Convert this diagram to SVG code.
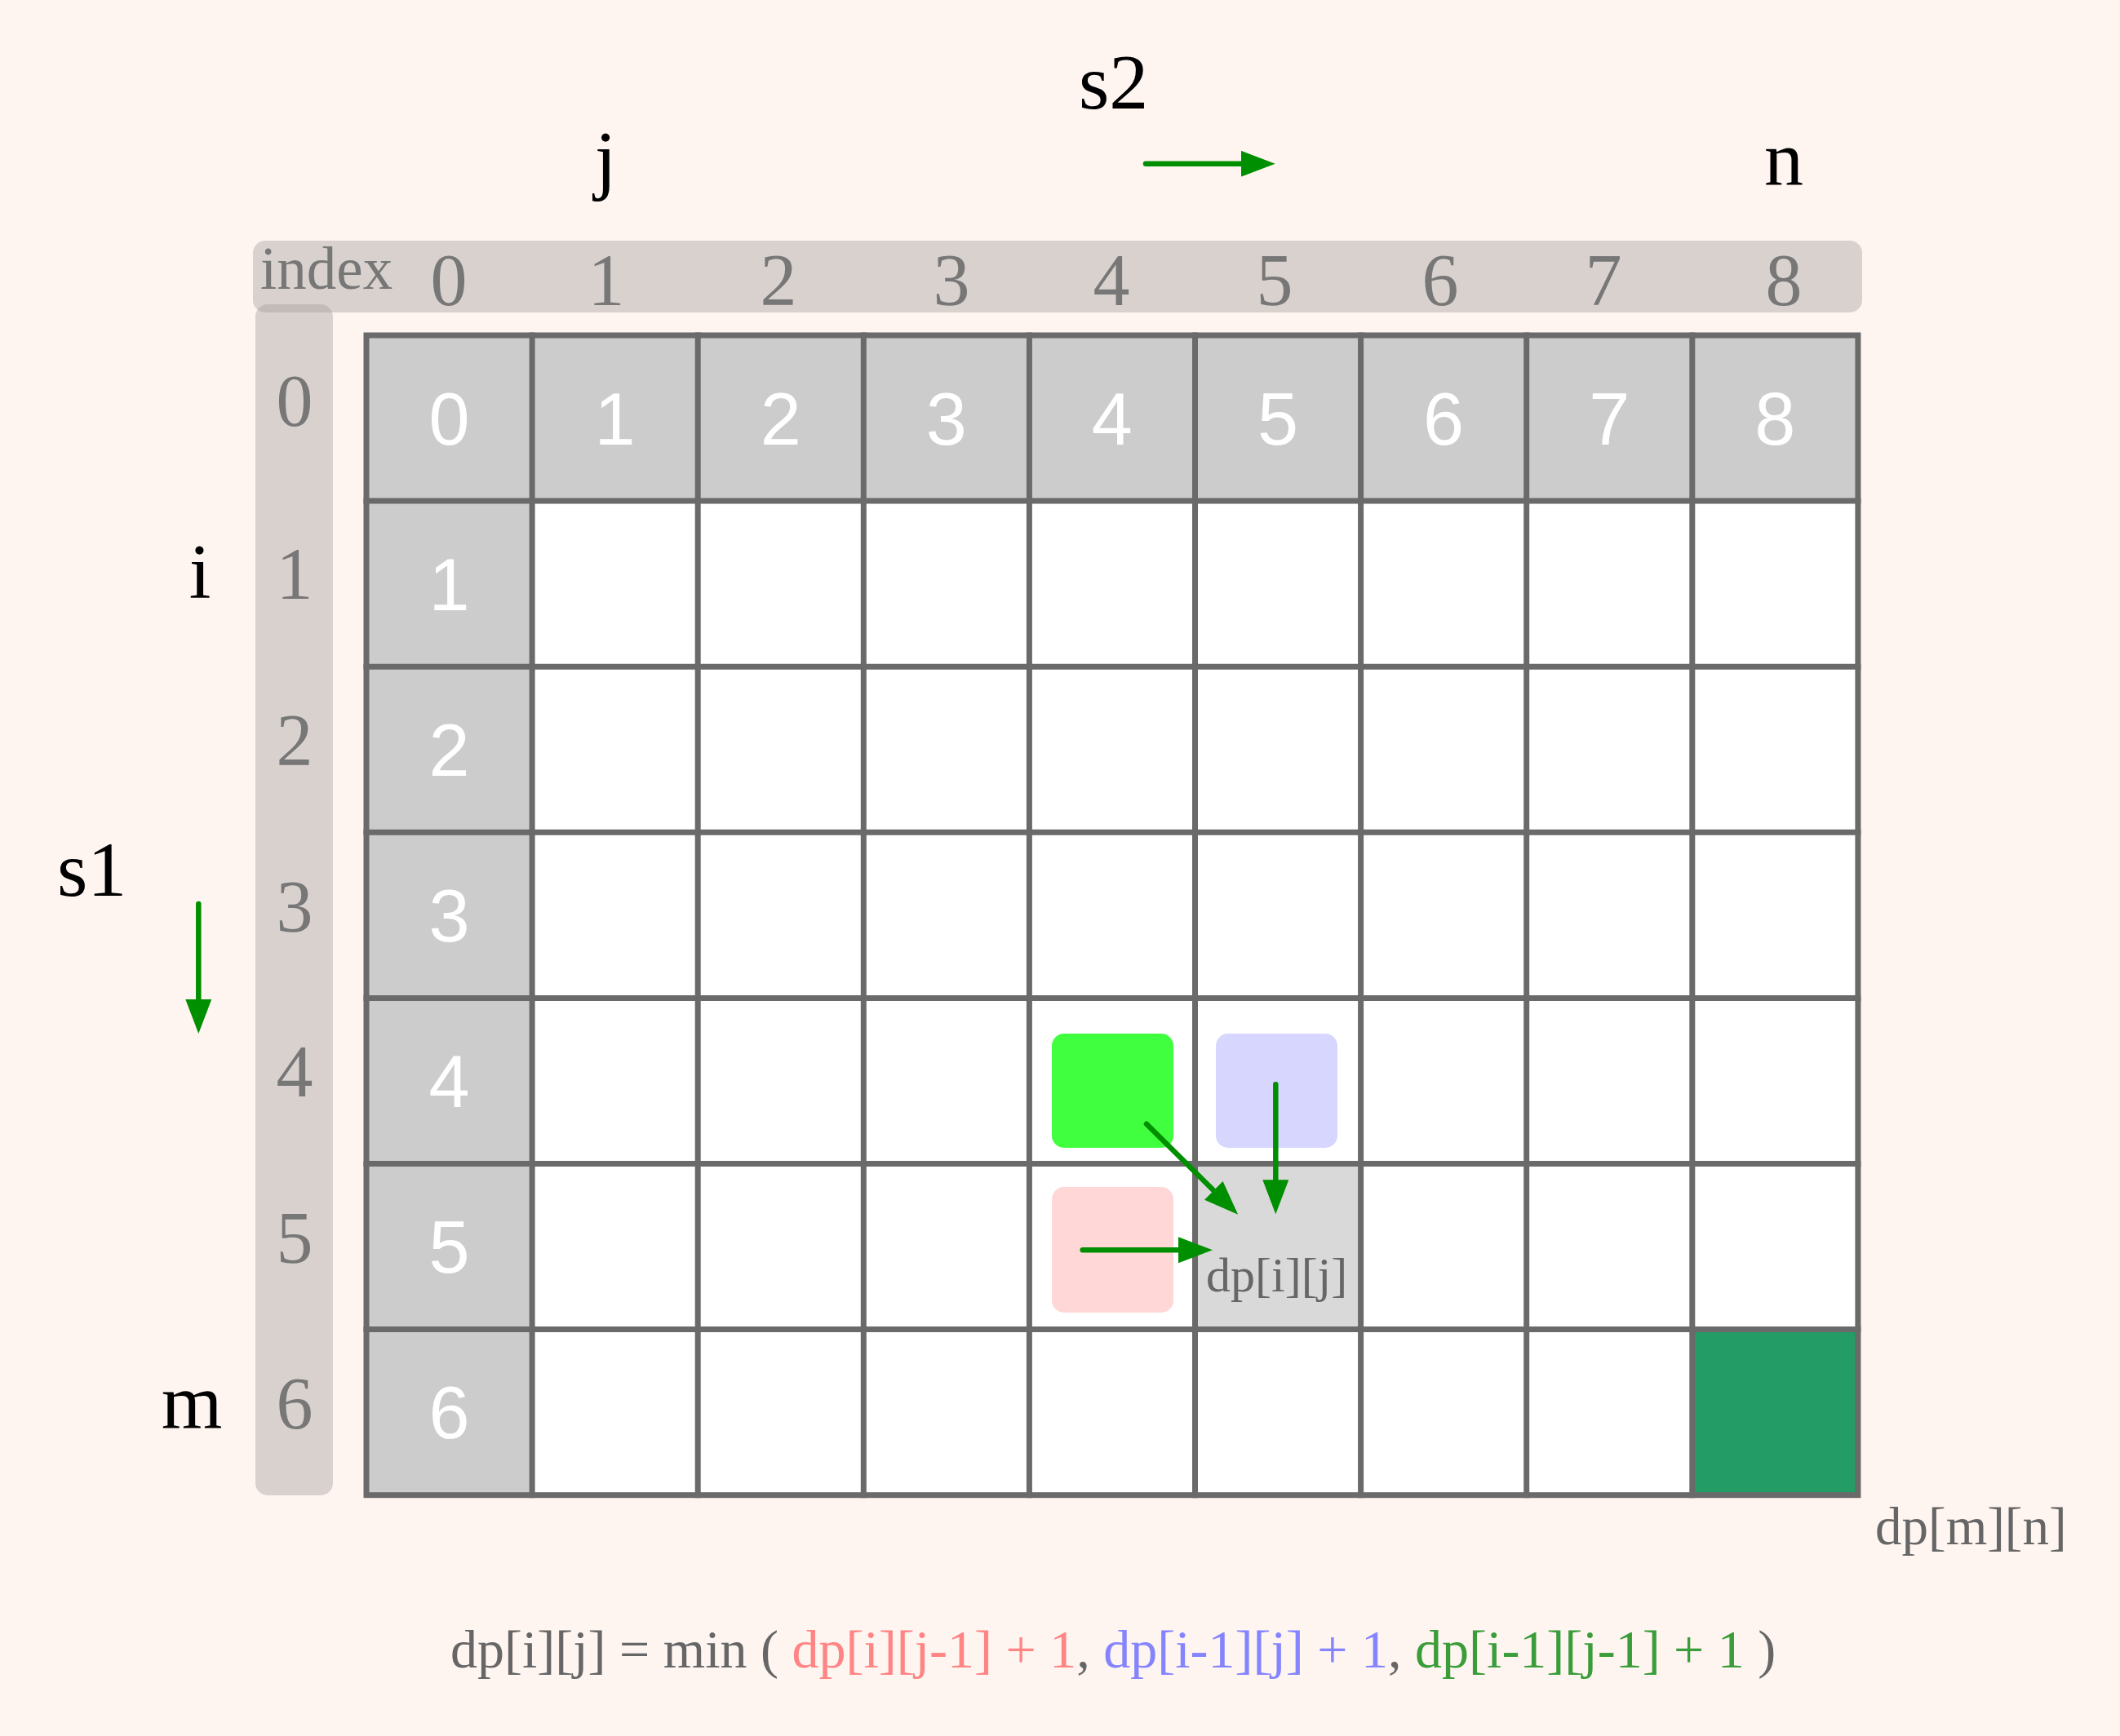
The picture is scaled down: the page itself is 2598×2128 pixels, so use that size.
<svg xmlns="http://www.w3.org/2000/svg" width="2598" height="2128" viewBox="0 0 2598 2128">
<style>
.lbl{font-family:"Liberation Serif","Times New Roman",serif;fill:#000;font-size:96px;text-anchor:middle}
.idx{font-family:"Liberation Serif","Times New Roman",serif;fill:#777;font-size:90px;text-anchor:middle}
.num{font-family:"Liberation Sans",Arial,sans-serif;fill:#fff;font-size:90px;text-anchor:middle}
.dp{font-family:"Liberation Serif","Times New Roman",serif;fill:#666}
.bar{fill:#9d9896;fill-opacity:0.38}
.hdr{fill:#cccccc}
.cell{fill:#ffffff}
.grid{stroke:#6a6a6a;stroke-width:7;fill:none;stroke-linecap:square}
.arr{stroke:#008f00;stroke-width:6.5;stroke-linecap:round;fill:none;marker-end:url(#ah)}
</style>
<defs>
<marker id="ah" markerUnits="userSpaceOnUse" markerWidth="42" markerHeight="32" refX="1" refY="16" orient="auto">
<path d="M0,0 L42,16 L0,32 z" fill="#008f00"/>
</marker>
</defs>
<rect width="2598" height="2128" fill="#fef4f0"/>

<g id="index-bars">
<rect class="bar" x="310" y="295" width="1972" height="88" rx="15"/>
<rect class="bar" x="313" y="373" width="95" height="1460" rx="15"/>
</g>

<g id="index-labels">
<text x="319" y="354" style="font-family:'Liberation Serif','Times New Roman',serif;fill:#777;font-size:73px">index</text>
<text class="idx" x="550" y="374">0</text>
<text class="idx" x="743" y="374">1</text>
<text class="idx" x="954" y="374">2</text>
<text class="idx" x="1166" y="374">3</text>
<text class="idx" x="1362" y="374">4</text>
<text class="idx" x="1562" y="374">5</text>
<text class="idx" x="1765" y="374">6</text>
<text class="idx" x="1965" y="374">7</text>
<text class="idx" x="2186" y="374">8</text>
<text class="idx" x="361" y="522">0</text>
<text class="idx" x="361" y="734">1</text>
<text class="idx" x="361" y="938">2</text>
<text class="idx" x="361" y="1142">3</text>
<text class="idx" x="361" y="1344">4</text>
<text class="idx" x="361" y="1548">5</text>
<text class="idx" x="361" y="1751">6</text>
</g>

<g id="axis-labels">
<text class="lbl" x="742" y="227">j</text>
<text class="lbl" x="2186" y="227">n</text>
<text class="lbl" x="245" y="733">i</text>
<text class="lbl" x="235" y="1750">m</text>
<text class="lbl" x="1322" y="133" style="text-anchor:start">s2</text>
<text class="lbl" x="70" y="1098" style="text-anchor:start">s1</text>
</g>

<g id="table">
<rect class="cell" x="449" y="411" width="1827.9" height="1421.7"/>
<rect class="hdr" x="449" y="411" width="1827.9" height="203.1"/>
<rect class="hdr" x="449" y="411" width="203.1" height="1421.7"/>
<rect id="cell-current" x="1464.5" y="1426.5" width="203.1" height="203.1" fill="#d9d9d9"/>
<rect id="cell-result" x="2073.8" y="1629.6" width="203.1" height="203.1" fill="#239c65"/>
<g class="grid">
<rect x="449" y="411" width="1827.9" height="1421.7"/>
<path d="M652.1,411V1832.7 M855.2,411V1832.7 M1058.3,411V1832.7 M1261.4,411V1832.7 M1464.5,411V1832.7 M1667.6,411V1832.7 M1870.7,411V1832.7 M2073.8,411V1832.7"/>
<path d="M449,614.1H2276.9 M449,817.2H2276.9 M449,1020.3H2276.9 M449,1223.4H2276.9 M449,1426.5H2276.9 M449,1629.6H2276.9"/>
</g>
<g id="cell-numbers">
<text class="num" x="550.5" y="545">0</text>
<text class="num" x="753.6" y="545">1</text>
<text class="num" x="956.7" y="545">2</text>
<text class="num" x="1159.8" y="545">3</text>
<text class="num" x="1362.9" y="545">4</text>
<text class="num" x="1566" y="545">5</text>
<text class="num" x="1769.1" y="545">6</text>
<text class="num" x="1972.2" y="545">7</text>
<text class="num" x="2175.3" y="545">8</text>
<text class="num" x="550.5" y="748">1</text>
<text class="num" x="550.5" y="951">2</text>
<text class="num" x="550.5" y="1154">3</text>
<text class="num" x="550.5" y="1357">4</text>
<text class="num" x="550.5" y="1560">5</text>
<text class="num" x="550.5" y="1763">6</text>
</g>
</g>

<g id="neighbours">
<rect id="box-diag" x="1289" y="1267" width="149" height="140" rx="15" fill="#3fff3f"/>
<rect id="box-up" x="1490" y="1267" width="149" height="140" rx="15" fill="#d6d6ff"/>
<rect id="box-left" x="1289" y="1455" width="149" height="154" rx="15" fill="#ffd7d6"/>
</g>

<g id="dp-labels">
<text class="dp" x="1478" y="1583" style="font-size:60px">dp[i][j]</text>
<text class="dp" x="2298" y="1893" style="font-size:65px">dp[m][n]</text>
</g>

<g id="connectors">
<path class="arr" d="M1404,200.7H1521.7"/>
<path class="arr" d="M243.3,1108V1226"/>
<path class="arr" d="M1405,1377.7L1488,1460"/>
<path class="arr" d="M1563.3,1329.3V1447.3"/>
<path class="arr" d="M1326.7,1532.3H1445"/>
</g>

<g id="formula">
<text class="dp" x="552" y="2044" style="font-size:66px"><tspan>dp[i][j] = min ( </tspan><tspan fill="#ff8484">dp[i][j-1] + 1</tspan><tspan>, </tspan><tspan fill="#8484ff">dp[i-1][j] + 1</tspan><tspan>, </tspan><tspan fill="#3a9d3a">dp[i-1][j-1] + 1</tspan><tspan> )</tspan></text>
</g>
</svg>
